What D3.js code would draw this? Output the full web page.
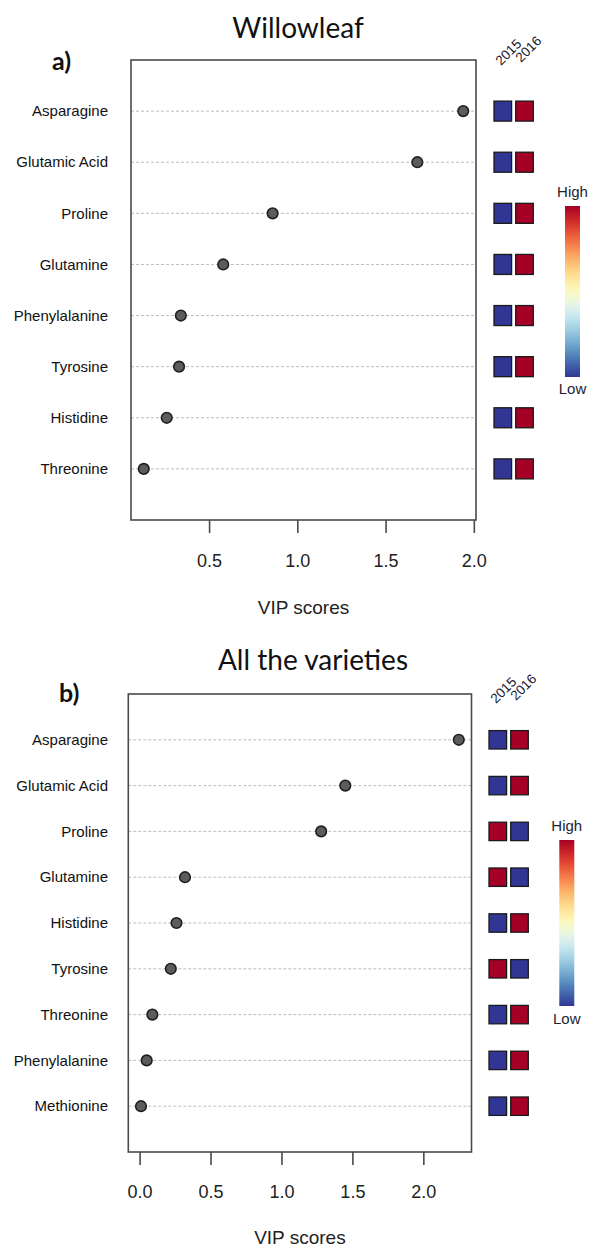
<!DOCTYPE html>
<html><head><meta charset="utf-8">
<script src="https://cdn.jsdelivr.net/npm/d3@7"></script>
<style>
html,body{margin:0;padding:0;background:#fff;}
svg{display:block;}
</style></head>
<body>
<svg id="chart" width="589" height="1247"></svg>
<script>
// ---------- data ----------
const years = ["2015", "2016"];

const aminoA = ["Asparagine","Glutamic Acid","Proline","Glutamine","Phenylalanine","Tyrosine","Histidine","Threonine"];
const vipA = [1.94, 1.68, 0.86, 0.58, 0.34, 0.33, 0.26, 0.13];
const levelA2015 = [0,0,0,0,0,0,0,0];   // 0 = Low, 1 = High
const levelA2016 = [1,1,1,1,1,1,1,1];
const ticksA = [0.5, 1.0, 1.5, 2.0];

const aminoB = ["Asparagine","Glutamic Acid","Proline","Glutamine","Histidine","Tyrosine","Threonine","Phenylalanine","Methionine"];
const vipB = [2.25, 1.45, 1.28, 0.32, 0.26, 0.22, 0.09, 0.05, 0.01];
const levelB2015 = [0,0,1,1,0,1,0,0,0];
const levelB2016 = [1,1,0,0,1,0,1,1,1];
const ticksB = [0.0, 0.5, 1.0, 1.5, 2.0];

const titles = ["Willowleaf", "All the varieties"];
const letters = ["a)", "b)"];
const legendLabels = ["High", "Low"];
const axisTitle = "VIP scores";

// ---------- layout ----------
const panels = [
  { title: titles[0], letter: letters[0], names: aminoA, vals: vipA, lv: [levelA2015, levelA2016], ticks: ticksA,
    box: {l:131, r:476, t:60, b:520}, titleX: 298, titleY: 38, letterX: 52, letterY: 70,
    cellX: [494, 533.3], cellH: 20, yearPos: [[501,66],[521,63]],
    leg: {x:565, w:15, t:206, b:377, hy:197, ly:394}, tickLabY: 567, axTitleY: 614 },
  { title: titles[1], letter: letters[1], names: aminoB, vals: vipB, lv: [levelB2015, levelB2016], ticks: ticksB,
    box: {l:128.3, r:471.5, t:694, b:1152}, titleX: 313, titleY: 670, letterX: 59, letterY: 702,
    cellX: [489, 528.3], cellH: 18.4, yearPos: [[496,704],[516,701]],
    leg: {x:559.3, w:15, t:840, b:1006, hy:831, ly:1024}, tickLabY: 1198, axTitleY: 1244 }
];

const svg = d3.select("#chart");
const defs = svg.append("defs");
const grad = defs.append("linearGradient").attr("id","rdylbu").attr("x1",0).attr("x2",0).attr("y1",0).attr("y2",1);
d3.range(0, 1.0001, 0.05).forEach(t => grad.append("stop").attr("offset", t).attr("stop-color", d3.interpolateRdYlBu(t)));
const colorLow = d3.interpolateRdYlBu(1), colorHigh = d3.interpolateRdYlBu(0);

const sans = "'Liberation Sans', Arial, sans-serif";
const titleFont = "Lato, 'Open Sans', sans-serif";

panels.forEach(p => {
  const g = svg.append("g");
  const pad = (d3.max(p.vals) - d3.min(p.vals)) * 0.04;
  const x = d3.scaleLinear().domain([d3.min(p.vals) - pad, d3.max(p.vals) + pad]).range([p.box.l, p.box.r]);
  const y = d3.scalePoint().domain(p.names).range([p.box.t, p.box.b]).padding(1);

  // title & letter
  g.append("text").attr("x", p.titleX).attr("y", p.titleY).attr("text-anchor","middle")
    .style("font-family", titleFont).style("font-size","28px").attr("fill","#111").text(p.title);
  g.append("text").attr("x", p.letterX).attr("y", p.letterY)
    .style("font-family", titleFont).style("font-weight","bold").style("font-size","25px").attr("fill","#111").text(p.letter);

  // dotted guide lines
  g.selectAll(".guide").data(p.names).join("line")
    .attr("x1", p.box.l).attr("x2", p.box.r).attr("y1", d => y(d)).attr("y2", d => y(d))
    .attr("stroke","#bdbdbd").attr("stroke-width",1).attr("stroke-dasharray","3,2");

  // row labels
  g.selectAll(".lab").data(p.names).join("text")
    .attr("x", 108).attr("y", d => y(d)).attr("dy","0.35em").attr("text-anchor","end")
    .style("font-family", sans).style("font-size","15px").attr("fill","#111").text(d => d);

  // points
  g.selectAll(".pt").data(p.names).join("circle")
    .attr("cx", (d,i) => x(p.vals[i])).attr("cy", d => y(d)).attr("r", 5.3)
    .attr("fill","#5c5c5c").attr("stroke","#1f1f1f").attr("stroke-width",1.6);

  // box
  g.append("rect").attr("x", p.box.l).attr("y", p.box.t).attr("width", p.box.r - p.box.l).attr("height", p.box.b - p.box.t)
    .attr("fill","none").attr("stroke","#4a4a4a").attr("stroke-width",1.6);

  // x axis
  const ax = g.append("g").attr("transform", `translate(0,${p.box.b})`)
    .call(d3.axisBottom(x).tickValues(p.ticks).tickFormat(d3.format(".1f")).tickSize(13).tickPadding(10));
  ax.select(".domain").remove();
  ax.selectAll(".tick line").attr("stroke","#4a4a4a").attr("stroke-width",1.6);
  ax.selectAll(".tick text").attr("y", null).attr("dy", null)
    .attr("transform", `translate(0,${p.tickLabY - p.box.b})`)
    .style("font-family", sans).style("font-size","18px").attr("fill","#222");

  g.append("text").attr("x", (p.box.l + p.box.r)/2).attr("y", p.axTitleY).attr("text-anchor","middle")
    .style("font-family", sans).style("font-size","19px").attr("fill","#222").text(axisTitle);

  // heat cells
  const xb = d3.scaleBand().domain(years).range(p.cellX).paddingInner(0.19);
  years.forEach((yr, j) => {
    const cells = g.append("g");
    cells.selectAll("rect.cell").data(p.names).join("rect")
      .attr("x", xb(yr)).attr("y", d => y(d) - p.cellH/2)
      .attr("width", xb.bandwidth()).attr("height", p.cellH)
      .attr("fill", (d,i) => p.lv[j][i] ? colorHigh : colorLow)
      .attr("stroke","#1a1a1a").attr("stroke-width",1.3);
    g.append("text").attr("transform", `translate(${p.yearPos[j][0]},${p.yearPos[j][1]}) rotate(-45)`)
      .style("font-family", sans).style("font-size","13.5px").attr("fill","#182030").text(yr);
  });

  // colour legend
  g.append("rect").attr("x", p.leg.x).attr("y", p.leg.t).attr("width", p.leg.w).attr("height", p.leg.b - p.leg.t)
    .attr("fill","url(#rdylbu)");
  g.append("text").attr("x", p.leg.x + p.leg.w/2).attr("y", p.leg.hy).attr("text-anchor","middle")
    .style("font-family", sans).style("font-size","15px").attr("fill","#1c2433").text(legendLabels[0]);
  g.append("text").attr("x", p.leg.x + p.leg.w/2).attr("y", p.leg.ly).attr("text-anchor","middle")
    .style("font-family", sans).style("font-size","15px").attr("fill","#1c2433").text(legendLabels[1]);
});
</script>
</body></html>
